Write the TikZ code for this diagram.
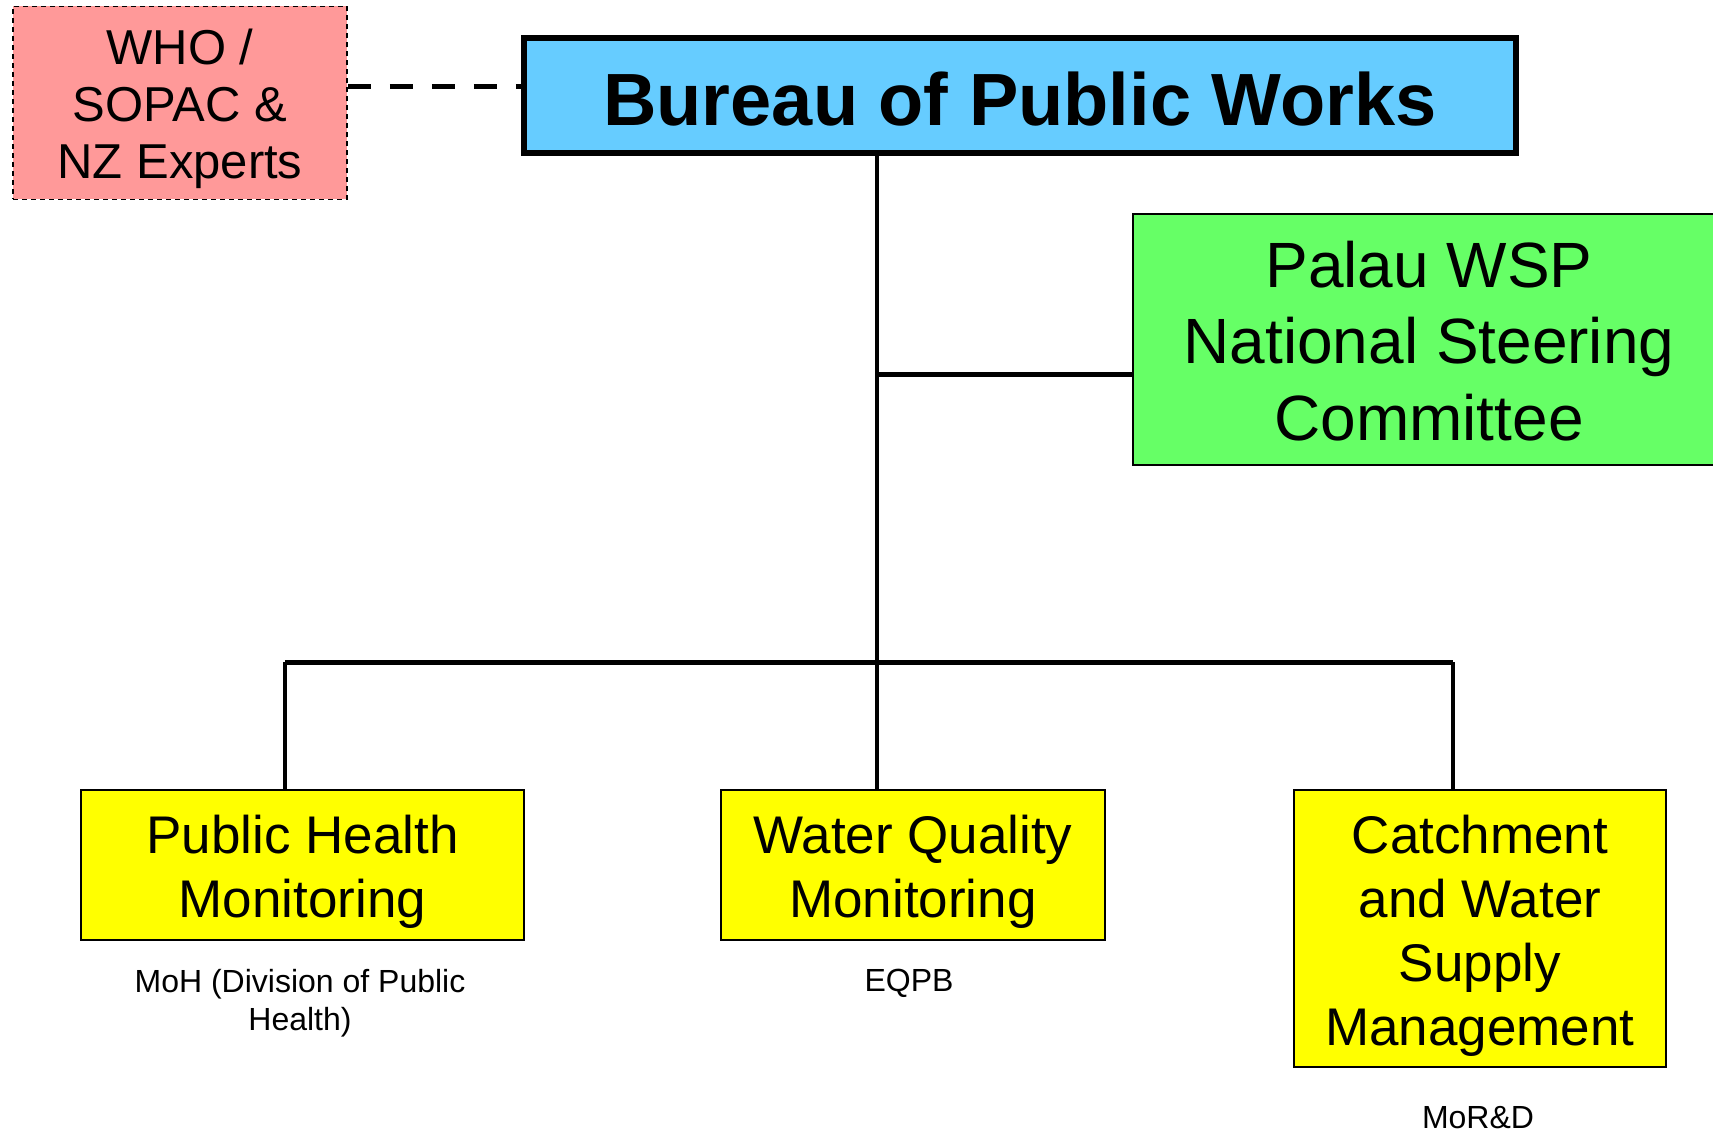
\documentclass[tikz,border=0pt]{standalone}
\usepackage{fontspec}
\setmainfont{Liberation Sans}
\definecolor{pinkfill}{HTML}{FF9999}
\definecolor{bluefill}{HTML}{66CCFF}
\definecolor{greenfill}{HTML}{66FF66}
\definecolor{yellowfill}{HTML}{FFFF00}
\newcommand{\lowtxt}[2]{\raisebox{-#1}[\height][\depth]{\begin{tabular}{@{}c@{}}#2\end{tabular}}}
\begin{document}
\begin{tikzpicture}[x=1pt,y=-1pt,
  box/.style={rectangle,draw=black,align=center,inner sep=0pt,anchor=center},
  yellowbox/.style={box,fill=yellowfill,line width=2pt,font=\fontsize{53}{64}\selectfont},
  lbl/.style={align=center,inner sep=0pt,font=\fontsize{32}{38}\selectfont}]
\useasboundingbox (0,0) rectangle (1713,1134);
\clip (0,0) rectangle (1713,1134);
\fill[white] (0,0) rectangle (1713,1134);

\node[box,fill=pinkfill,line width=1.5pt,dash pattern=on 5pt off 4pt,
      minimum width=334pt,minimum height=193pt,
      font=\fontsize{49}{57}\selectfont] (who) at (180,103) {\lowtxt{7.5pt}{WHO /\\SOPAC \&\\NZ Experts}};
\node[box,fill=bluefill,line width=5.5pt,minimum width=992pt,minimum height=115pt,
      font=\fontsize{74}{85}\selectfont\bfseries] (bpw) at (1020,95.5) {\lowtxt{13pt}{Bureau of Public Works}};
\node[box,fill=greenfill,line width=2pt,minimum width=592pt,minimum height=251pt,
      font=\fontsize{64}{76.5}\selectfont] (nsc) at (1429,339.5) {\lowtxt{9pt}{Palau WSP\\National Steering\\Committee}};

\node[yellowbox,minimum width=443pt,minimum height=150pt] (phm) at (302.5,865) {\lowtxt{8pt}{Public Health\\Monitoring}};
\node[yellowbox,minimum width=383.5pt,minimum height=150pt] (wqm) at (913,865) {\lowtxt{8pt}{Water Quality\\Monitoring}};
\node[yellowbox,minimum width=372.5pt,minimum height=277pt] (cws) at (1480,928.5) {\lowtxt{8pt}{Catchment\\and Water\\Supply\\Management}};

\node[lbl] (moh) at (300,1003) {MoH (Division of Public\\Health)};
\node[lbl] (eqpb) at (909,983) {EQPB};
\node[lbl] (mord) at (1478,1118) {MoR\&D};

\coordinate (trunk) at (877,0);
\coordinate (nscy) at (0,374);
\coordinate (busL) at (285,662);
\coordinate (busR) at (1453,662);
\coordinate (dashy) at (0,87);

\draw[line width=5pt,dash pattern=on 23pt off 19pt] (who.east |- dashy) -- (bpw.west |- dashy);
\draw[line width=4.5pt] (bpw.south -| trunk) -- (wqm.north -| trunk);
\draw[line width=5pt] (trunk |- nscy) -- (nsc.west |- nscy);
\draw[line width=5pt] (busL) -- (busR);
\draw[line width=4.5pt] (busL) -- (phm.north -| busL);
\draw[line width=4.5pt] (busR) -- (cws.north -| busR);
\end{tikzpicture}
\end{document}
